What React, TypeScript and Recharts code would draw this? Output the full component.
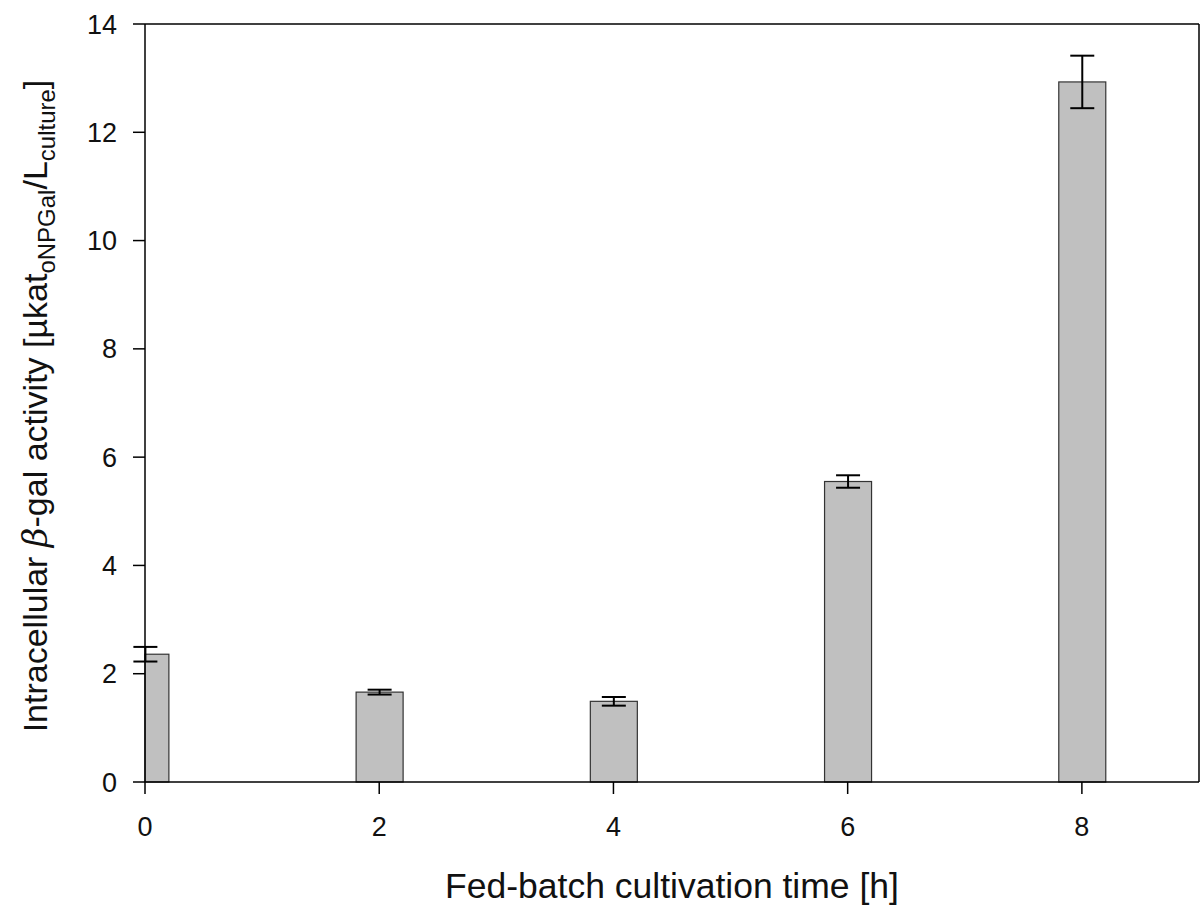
import {
  BarChart,
  Bar,
  XAxis,
  YAxis,
  ErrorBar,
  ReferenceLine,
} from 'recharts'

const times = [0, 2, 4, 6, 8]
const activity = [2.36, 1.66, 1.49, 5.55, 12.93]
const activityErr = [0.135, 0.045, 0.08, 0.115, 0.485]
const xTicks = [0, 2, 4, 6, 8]
const yTicks = [0, 2, 4, 6, 8, 10, 12, 14]

const data = times.map((t, i) => ({ t, value: activity[i], err: activityErr[i] }))

const W = 1200
const H = 908
const Y_AXIS_W = 90
const MARGIN = { top: 24, right: 1, bottom: 0, left: 55 }
const PLOT_LEFT = MARGIN.left + Y_AXIS_W
const FONT = 'Arial, "Liberation Sans", sans-serif'

// bar at t=0 sits on the y axis, only its right half is drawn
function ClippedBar(props: any) {
  const { x, y, width, height } = props
  const x0 = Math.max(x, PLOT_LEFT)
  const w = x + width - x0
  if (w <= 0) return null
  return <rect x={x0} y={y} width={w} height={height} fill="#c0c0c0" stroke="#333" strokeWidth={1.2} />
}

function XLabel(props: any) {
  const { viewBox } = props
  return (
    <text
      x={viewBox.x + viewBox.width / 2}
      y={viewBox.y + 116}
      textAnchor="middle"
      fontSize={35.5}
      fontFamily={FONT}
      fill="#111"
    >
      Fed-batch cultivation time [h]
    </text>
  )
}

function YLabel() {
  const cx = 47
  const cy = 406
  return (
    <text
      x={cx}
      y={cy}
      transform={`rotate(-90, ${cx}, ${cy})`}
      textAnchor="middle"
      fontSize={34}
      fontFamily={FONT}
      fill="#111"
    >
      Intracellular <tspan fontStyle="italic" fontFamily="'DejaVu Serif', serif">β</tspan>-gal activity [µkat
      <tspan fontSize={24} dy={8}>oNPGal</tspan>
      <tspan dy={-8}>/L</tspan>
      <tspan fontSize={24} dy={8}>culture</tspan>
      <tspan dy={-8}>]</tspan>
    </text>
  )
}

export default function App() {
  return (
    <div style={{ position: 'absolute', left: 0, top: 0, background: '#fff' }}>
      <BarChart width={W} height={H} data={data} margin={MARGIN}>
        <XAxis
          dataKey="t"
          type="number"
          domain={[0, 9]}
          ticks={xTicks}
          allowDecimals={false}
          height={126}
          axisLine={{ stroke: '#000', strokeWidth: 1.5 }}
          tickLine={{ stroke: '#000', strokeWidth: 1.5 }}
          tickSize={12}
          tickMargin={23}
          tick={{ fontSize: 27, fill: '#111', fontFamily: FONT }}
          label={<XLabel />}
        />
        <YAxis
          type="number"
          domain={[0, 14]}
          ticks={yTicks}
          width={Y_AXIS_W}
          axisLine={{ stroke: '#000', strokeWidth: 1.5 }}
          tickLine={{ stroke: '#000', strokeWidth: 1.5 }}
          tickSize={12}
          tickMargin={16}
          tick={{ fontSize: 27, fill: '#111', fontFamily: FONT }}
          label={<YLabel />}
        />
        <ReferenceLine y={14} stroke="#000" strokeWidth={1.5} />
        <ReferenceLine x={9} stroke="#000" strokeWidth={1.5} />
        <Bar dataKey="value" barSize={47} shape={<ClippedBar />} isAnimationActive={false}>
          <ErrorBar dataKey="err" width={12} stroke="#000" strokeWidth={2} direction="y" />
        </Bar>
      </BarChart>
    </div>
  )
}
